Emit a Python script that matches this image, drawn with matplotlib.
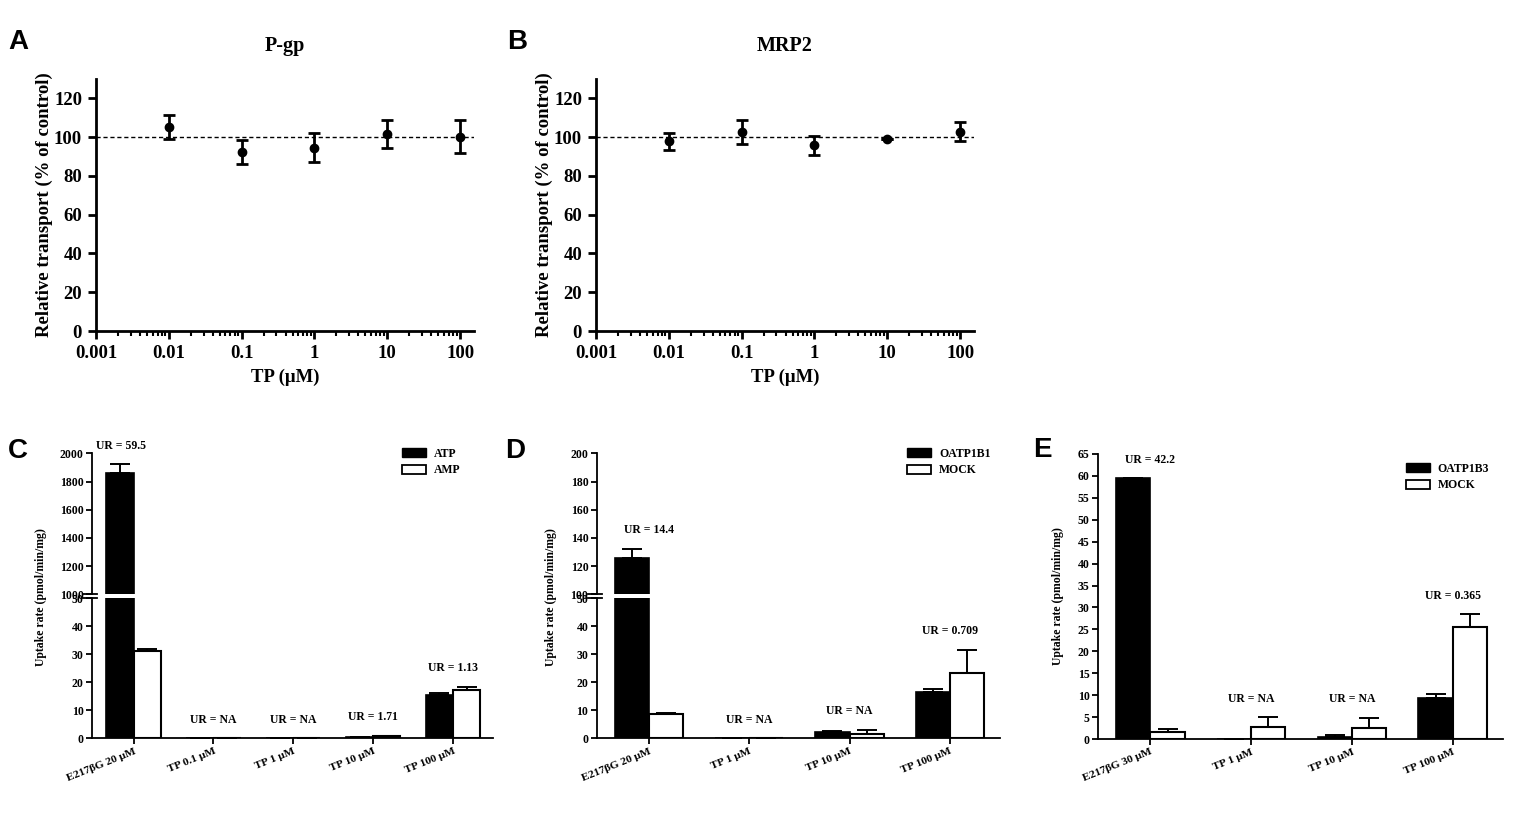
import numpy as np
import matplotlib
matplotlib.use('Agg')
import matplotlib.pyplot as plt
from matplotlib.ticker import FixedLocator, FixedFormatter, LogLocator, NullFormatter
from matplotlib.patches import Patch

plt.rcParams['font.family'] = ['Liberation Serif', 'DejaVu Serif']
plt.rcParams['font.weight'] = 'bold'
plt.rcParams['axes.labelweight'] = 'bold'
plt.rcParams['axes.titleweight'] = 'bold'

# ---- data: panels A/B (inhibition of efflux transporters) ----
conc = [0.01, 0.1, 1, 10, 100]
conc_ticks = [0.001, 0.01, 0.1, 1, 10, 100]
conc_labels = ['0.001', '0.01', '0.1', '1', '10', '100']
pgp_mean = [105.2, 92.4, 94.5, 101.5, 100.3]
pgp_sd = [6.2, 6.3, 7.5, 7.2, 8.6]
mrp2_mean = [97.8, 102.9, 95.7, 98.8, 102.9]
mrp2_sd = [4.4, 6.2, 5.1, 0.0, 4.9]

# ---- data: panel C (vesicles, ATP vs AMP) ----
c_groups = ['E217βG 20 μM', 'TP 0.1 μM', 'TP 1 μM', 'TP 10 μM', 'TP 100 μM']
c_atp = [1858, 0.05, 0.05, 0.4, 15.4]
c_atp_err = [66, 0, 0, 0.1, 0.9]
c_amp = [31.3, 0.05, 0.05, 0.85, 17.3]
c_amp_err = [0.6, 0, 0, 0.1, 1.2]
c_ur = ['UR = 59.5', 'UR = NA', 'UR = NA', 'UR = 1.71', 'UR = 1.13']

# ---- data: panel D (OATP1B1 vs mock) ----
d_groups = ['E217βG 20 μM', 'TP 1 μM', 'TP 10 μM', 'TP 100 μM']
d_oatp = [126.1, 0.1, 2.4, 16.7]
d_oatp_err = [6.2, 0, 0.2, 0.8]
d_mock = [8.7, 0.1, 1.6, 23.5]
d_mock_err = [0.35, 0, 1.4, 8.2]
d_ur = ['UR = 14.4', 'UR = NA', 'UR = NA', 'UR = 0.709']

# ---- data: panel E (OATP1B3 vs mock) ----
e_groups = ['E217βG 30 μM', 'TP 1 μM', 'TP 10 μM', 'TP 100 μM']
e_oatp = [59.5, 0.0, 0.4, 9.4]
e_oatp_err = [0, 0, 0.4, 0.8]
e_mock = [1.5, 2.7, 2.5, 25.5]
e_mock_err = [0.8, 2.3, 2.4, 2.9]
e_ur = ['UR = 42.2', 'UR = NA', 'UR = NA', 'UR = 0.365']

W, H = 1539, 819
fig = plt.figure(figsize=(W / 100, H / 100), dpi=100)


def px_axes(x0, y0, x1, y1):
    # pixel box (top-left origin) -> figure axes
    return fig.add_axes([x0 / W, 1 - y1 / H, (x1 - x0) / W, (y1 - y0) / H])


def style_spines(ax, lw):
    ax.spines['right'].set_visible(False)
    ax.spines['top'].set_visible(False)
    ax.spines['left'].set_linewidth(lw)
    ax.spines['bottom'].set_linewidth(lw)


def line_panel(ax, mean, sd, title):
    ax.errorbar(conc, mean, yerr=sd, fmt='o', color='black', ms=6,
                elinewidth=2, capsize=4, capthick=2)
    ax.axhline(100, color='black', ls=(0, (3, 2)), lw=1)
    ax.set_xscale('log')
    ax.set_xlim(0.001, 155)
    ax.set_ylim(0, 130)
    ax.set_yticks(np.arange(0, 121, 20))
    ax.xaxis.set_major_locator(FixedLocator(conc_ticks))
    ax.xaxis.set_major_formatter(FixedFormatter(conc_labels))
    ax.xaxis.set_minor_locator(LogLocator(base=10, subs=np.arange(2, 10)))
    ax.xaxis.set_minor_formatter(NullFormatter())
    style_spines(ax, 2)
    ax.tick_params(which='major', width=2, length=6, labelsize=13.5, pad=4)
    ax.tick_params(which='minor', width=1.5, length=3.5)
    ax.set_xlabel('TP (μM)', fontsize=13.5, labelpad=5)
    ax.set_ylabel('Relative transport (% of control)', fontsize=13.5, labelpad=1)
    ax.set_title(title, fontsize=14.5, pad=20)


ax_a = px_axes(96, 79, 474, 331)
line_panel(ax_a, pgp_mean, pgp_sd, 'P-gp')
ax_b = px_axes(596, 79, 974, 331)
line_panel(ax_b, mrp2_mean, mrp2_sd, 'MRP2')

BW = 0.34
FS = 8.5


def draw_bars(ax, black, black_err, white, white_err):
    x = np.arange(len(black))
    ekw = dict(elinewidth=1.4, capthick=1.4, capsize=7, ecolor='black')
    ax.bar(x - BW / 2, black, BW, color='black', edgecolor='black', lw=1.2,
           yerr=[np.zeros(len(x)), black_err], error_kw=ekw, zorder=2)
    ax.bar(x + BW / 2, white, BW, color='white', edgecolor='black', lw=1.5,
           yerr=[np.zeros(len(x)), white_err], error_kw=ekw, zorder=2)
    return x


def bar_style(ax, n):
    ax.set_xlim(-0.52, n - 1 + 0.5)
    style_spines(ax, 1.3)
    ax.tick_params(width=1.3, length=4, labelsize=FS, pad=2)


def x_labels(ax, groups):
    ax.set_xticks(np.arange(len(groups)))
    ax.set_xticklabels(groups, rotation=22, ha='right', rotation_mode='anchor',
                       fontsize=8.2)


def ur_labels(labels, black, black_err, white, white_err, pick, dx0=0):
    for i, lab in enumerate(labels):
        top = max(black[i] + black_err[i], white[i] + white_err[i])
        pick(i).annotate(lab, (i, top), xytext=(dx0 if i == 0 else 0, 9),
                         textcoords='offset points', ha='center', va='bottom',
                         fontsize=FS, annotation_clip=False)


def legend(ax, names, x, y):
    h = [Patch(facecolor='black', edgecolor='black'),
         Patch(facecolor='white', edgecolor='black', lw=1.3)]
    ax.legend(h, names, loc='upper left', bbox_to_anchor=(x / W, 1 - y / H),
              bbox_transform=fig.transFigure, frameon=False, fontsize=FS,
              handlelength=2.0, handleheight=0.8, borderpad=0,
              borderaxespad=0, handletextpad=0.7, labelspacing=0.35)


def broken_panel(x0, x1, upper_lim, upper_step, black, black_err, white, white_err,
                 groups, labels, names, leg_xy, label_x, dx0=0):
    lo = px_axes(x0, 598.3, x1, 738.3)
    hi = px_axes(x0, 453.5, x1, 594.3)
    for ax in (lo, hi):
        draw_bars(ax, black, black_err, white, white_err)
        bar_style(ax, len(black))
    lo.set_ylim(0, 50)
    lo.set_yticks(np.arange(0, 51, 10))
    lo.spines['top'].set_visible(False)
    hi.set_ylim(*upper_lim)
    hi.set_yticks(np.arange(upper_lim[0], upper_lim[1] + 1, upper_step))
    hi.spines['bottom'].set_visible(False)
    hi.tick_params(axis='x', bottom=False, labelbottom=False)
    x_labels(lo, groups)
    # break marks on the y axis
    for ax, yy in ((lo, 1.0), (hi, 0.0)):
        ax.plot([-0.022, 0.012], [yy, yy], transform=ax.transAxes, color='black',
                lw=1.3, clip_on=False)
    lo.set_ylabel('Uptake rate (pmol/min/mg)', fontsize=FS)
    lo.yaxis.set_label_coords(label_x, 1.01)

    def pick(i):
        return hi if black[i] + black_err[i] > 50 else lo
    ur_labels(labels, black, black_err, white, white_err, pick, dx0=dx0)
    legend(hi, names, *leg_xy)
    return lo, hi


broken_panel(92, 493, (1000, 2000), 200, c_atp, c_atp_err, c_amp, c_amp_err,
             c_groups, c_ur, ['ATP', 'AMP'], (402, 448), -0.112, dx0=-9)
broken_panel(596.7, 1000, (100, 200), 20, d_oatp, d_oatp_err, d_mock, d_mock_err,
             d_groups, d_ur, ['OATP1B1', 'MOCK'], (907, 448), -0.098)

ax_e = px_axes(1098, 454, 1503, 739)
draw_bars(ax_e, e_oatp, e_oatp_err, e_mock, e_mock_err)
bar_style(ax_e, len(e_oatp))
ax_e.set_ylim(0, 65)
ax_e.set_yticks(np.arange(0, 66, 5))
x_labels(ax_e, e_groups)
ax_e.set_ylabel('Uptake rate (pmol/min/mg)', fontsize=FS)
ax_e.yaxis.set_label_coords(-0.083, 0.5)
ur_labels(e_ur, e_oatp, e_oatp_err, e_mock, e_mock_err, lambda i: ax_e)
legend(ax_e, ['OATP1B3', 'MOCK'], 1406, 463)

# panel letters
for letter, lx, ly in (('A', 8, 42), ('B', 507, 42), ('C', 8, 451),
                       ('D', 505, 451), ('E', 1033, 450)):
    fig.text(lx / W, 1 - ly / H, letter, fontsize=20, fontweight='bold',
             family='Liberation Sans', va='center', ha='left')

fig.savefig('out.png', dpi=100)
